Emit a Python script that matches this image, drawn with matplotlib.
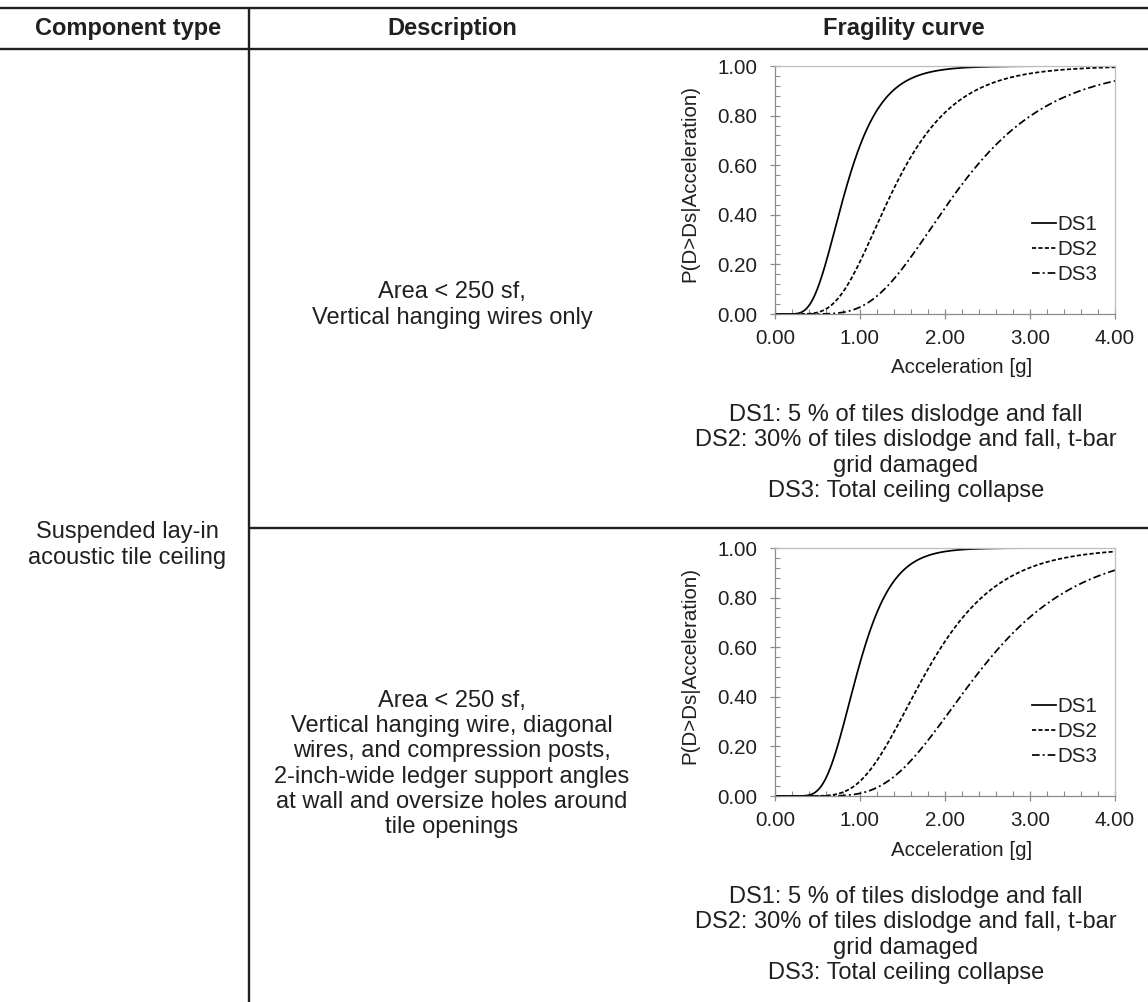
import math
import numpy as np
import matplotlib
matplotlib.use("Agg")
import matplotlib.pyplot as plt
from matplotlib.lines import Line2D
from matplotlib.ticker import MultipleLocator, FormatStrFormatter

plt.rcParams['font.family'] = ['Liberation Sans', 'DejaVu Sans']
plt.rcParams['lines.scale_dashes'] = False

W, H = 1148, 1002

# ---- table content -------------------------------------------------------
headers = ["Component type", "Description", "Fragility curve"]
component = "Suspended lay-in\nacoustic tile ceiling"
descriptions = [
    "Area < 250 sf,\nVertical hanging wires only",
    "Area < 250 sf,\nVertical hanging wire, diagonal\nwires, and compression posts,\n"
    "2-inch-wide ledger support angles\nat wall and oversize holes around\ntile openings",
]
ds_notes = ("DS1: 5 % of tiles dislodge and fall\n"
            "DS2: 30% of tiles dislodge and fall, t-bar\n"
            "grid damaged\n"
            "DS3: Total ceiling collapse")
damage_states = ["DS1", "DS2", "DS3"]

# ---- lognormal fragility parameters (median [g], dispersion) -------------
medians_row1 = [0.83, 1.39, 2.15]
betas_row1 = [0.40, 0.41, 0.40]
medians_row2 = [0.97, 1.78, 2.40]
betas_row2 = [0.33, 0.37, 0.38]

x_ticks = [0.0, 1.0, 2.0, 3.0, 4.0]
y_ticks = [0.0, 0.2, 0.4, 0.6, 0.8, 1.0]
x_label = "Acceleration [g]"
y_label = "P(D>Ds|Acceleration)"

INK = "#231f20"
AXIS = "#8c8c8c"
FRAME = "#bdbdbd"
styles = ["-", (0, (3.0, 1.6)), (0, (5.5, 2.2, 1.4, 2.2))]
BODY = 17
SMALL = 14.8
SPACING = 1.2


def fx(px):
    return px / W


def fy(py):
    return 1 - py / H


def lognormal_cdf(x, median, beta):
    z = np.log(x / median) / (beta * math.sqrt(2.0))
    return 0.5 * (1.0 + np.array([math.erf(v) for v in z]))


fig = plt.figure(figsize=(W / 100, H / 100), dpi=100)
fig.patch.set_facecolor("white")

# ---- table rules ---------------------------------------------------------
def hline(y, x0, x1):
    fig.add_artist(Line2D([fx(x0), fx(x1)], [fy(y), fy(y)], transform=fig.transFigure,
                          color=INK, lw=1.7, solid_capstyle="butt"))


def vline(x, y0, y1):
    fig.add_artist(Line2D([fx(x), fx(x)], [fy(y0), fy(y1)], transform=fig.transFigure,
                          color=INK, lw=1.7, solid_capstyle="butt"))


hline(8, 0, W)
hline(49, 0, W)
hline(528, 249, W)
vline(249, 8, H)

# ---- header and text cells ----------------------------------------------
for cx, txt in zip([128, 452, 904], headers):
    fig.text(fx(cx), fy(29), txt, ha="center", va="center", fontsize=BODY,
             fontweight="bold", color=INK)

fig.text(fx(127), fy(545), component, ha="center", va="center", fontsize=BODY,
         color=INK, linespacing=SPACING)
fig.text(fx(452), fy(305), descriptions[0], ha="center", va="center", fontsize=BODY,
         color=INK, linespacing=SPACING)
fig.text(fx(452), fy(764), descriptions[1], ha="center", va="center", fontsize=BODY,
         color=INK, linespacing=SPACING)

# ---- fragility plots -----------------------------------------------------
x = np.linspace(0.005, 4.0, 800)
rows = [
    (314, medians_row1, betas_row1),
    (796, medians_row2, betas_row2),
]
for y_bottom, medians, betas in rows:
    ax = fig.add_axes([fx(775), fy(y_bottom), 340 / W, 248 / H])
    for name, med, beta, ls in zip(damage_states, medians, betas, styles):
        ax.plot(x, lognormal_cdf(x, med, beta), color="black", lw=1.25,
                linestyle=ls, label=name)
    ax.set_xlim(0, 4)
    ax.set_ylim(0, 1)
    ax.set_xticks(x_ticks)
    ax.set_yticks(y_ticks)
    ax.xaxis.set_minor_locator(MultipleLocator(0.2))
    ax.yaxis.set_minor_locator(MultipleLocator(0.04))
    ax.xaxis.set_major_formatter(FormatStrFormatter("%.2f"))
    ax.yaxis.set_major_formatter(FormatStrFormatter("%.2f"))
    ax.tick_params(which="major", direction="inout", length=7, width=0.9,
                   color=AXIS, labelsize=SMALL, labelcolor=INK, pad=7)
    ax.tick_params(axis="y", which="major", pad=9)
    ax.tick_params(which="minor", direction="in", length=3.5, width=0.8, color=AXIS)
    for side in ("left", "bottom"):
        ax.spines[side].set_color(AXIS)
        ax.spines[side].set_linewidth(0.9)
    for side in ("top", "right"):
        ax.spines[side].set_color(FRAME)
        ax.spines[side].set_linewidth(0.9)
    leg = ax.legend(loc="center left", bbox_to_anchor=(0.756, 0.26), frameon=False,
                    fontsize=SMALL, handlelength=1.15, handletextpad=0.1,
                    borderpad=0, borderaxespad=0, labelspacing=0.3)
    for t in leg.get_texts():
        t.set_color(INK)

    fig.text(fx(962), fy(y_bottom + 54), x_label, ha="center", va="center",
             fontsize=SMALL, color=INK)
    fig.text(fx(690), fy(y_bottom - 130), y_label, ha="center", va="center",
             rotation=90, fontsize=SMALL, color=INK)
    fig.text(fx(906), fy(y_bottom + 139), ds_notes, ha="center", va="center",
             fontsize=BODY, color=INK, linespacing=SPACING)

fig.savefig("out.png", dpi=100, facecolor="white")
